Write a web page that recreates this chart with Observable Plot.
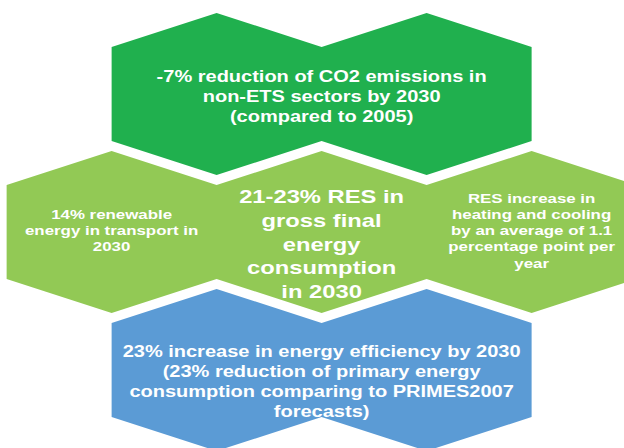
<!DOCTYPE html>
<html><head><meta charset="utf-8">
<script src="https://cdn.jsdelivr.net/npm/d3@7"></script>
<script src="https://cdn.jsdelivr.net/npm/@observablehq/plot@0.6"></script>
<style>
html,body{margin:0;padding:0;background:#fff;}
#chart{width:624px;height:448px;overflow:hidden;}
#chart svg{transform:scaleX(1.25);transform-origin:0 0;display:block;overflow:visible;}
</style></head><body><div id="chart"></div>
<script>
// ---- data ----
const groups = ["emissions", "renewables", "efficiency"];
const groupRow = [0, 1, 2];
const groupCols = [[2, 4], [1, 3, 5], [2, 4]];
const groupColors = ["#20B04E", "#92C955", "#5B9BD5"];

const labels = [
  "-7% reduction of CO2 emissions in\nnon-ETS sectors by 2030\n(compared to 2005)",
  "14% renewable\nenergy in transport in\n2030",
  "21-23% RES in\ngross final\nenergy\nconsumption\nin 2030",
  "RES increase in\nheating and cooling\nby an average of 1.1\npercentage point per\nyear",
  "23% increase in energy efficiency by 2030\n(23% reduction of primary energy\nconsumption comparing to PRIMES2007\nforecasts)"
];
const labelRow = [0, 1, 1, 1, 2];
const labelCol = [3, 1, 3, 5, 3];

// ---- layout ----
const STRETCH = 1.25, W = 624, H = 448;
const colX0 = 6, colStep = 105, rowY0 = 93.5, rowStep = 138;
const halfSide = 47 / rowStep, roof = 34 / rowStep;

function outline(g, i) {
  const r = groupRow[i], cols = groupCols[i];
  const first = cols[0], last = cols[cols.length - 1];
  const pts = [[first - 1, r - halfSide]];
  cols.forEach(c => { pts.push([c, r - halfSide - roof]); pts.push([c + 1, r - halfSide]); });
  pts.push([last + 1, r + halfSide]);
  for (let j = cols.length - 1; j >= 0; j--) {
    pts.push([cols[j], r + halfSide + roof]);
    pts.push([cols[j] - 1, r + halfSide]);
  }
  return pts.map(([x, y]) => ({group: g, x, y}));
}
const shapes = groups.flatMap(outline);

const textStyle = [
  {size: 16, lh: 1.25, dy: 2},
  {size: 13.5, lh: 1.2, dy: -2},
  {size: 19, lh: 1.25, dy: 11},
  {size: 13.5, lh: 1.2, dy: -2},
  {size: 16, lh: 1.25, dy: 11}
];

const chart = Plot.plot({
  width: W / STRETCH,
  height: H,
  margin: 0,
  x: {domain: [-colX0 / colStep, (W - colX0) / colStep], range: [0, W / STRETCH], axis: null},
  y: {domain: [-rowY0 / rowStep, (H - rowY0) / rowStep], range: [0, H], axis: null},
  color: {domain: groups, range: groupColors},
  marks: [
    Plot.line(shapes, {x: "x", y: "y", z: "group", fill: "group", stroke: "none", curve: "linear-closed"}),
    ...labels.map((_, i) => Plot.text([i], {
      x: d => labelCol[d], y: d => labelRow[d], text: d => labels[d],
      fill: "white", fontWeight: "bold", fontSize: textStyle[i].size,
      lineHeight: textStyle[i].lh, dy: textStyle[i].dy,
      fontFamily: "Liberation Sans, Arial, sans-serif", textAnchor: "middle"
    }))
  ]
});
document.getElementById("chart").appendChild(chart);
</script></body></html>
